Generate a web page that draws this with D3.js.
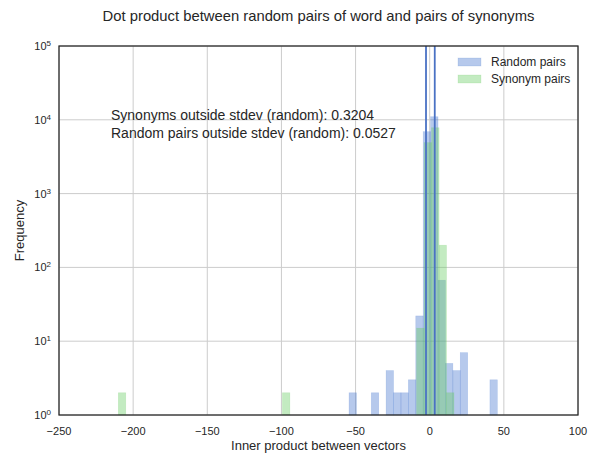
<!DOCTYPE html>
<html>
<head>
<meta charset="utf-8">
<script src="https://cdn.jsdelivr.net/npm/d3@7"></script>
<style>
  html, body { margin: 0; padding: 0; background: #fff; }
  svg { display: block; font-family: "Liberation Sans", Arial, sans-serif; }
</style>
</head>
<body>
<svg id="chart" width="598" height="456"></svg>
<script>
// ---- data ----
const title = "Dot product between random pairs of word and pairs of synonyms";
const xLabel = "Inner product between vectors";
const yLabel = "Frequency";
const xTicks = [-250, -200, -150, -100, -50, 0, 50, 100];
const yTicks = [0, 1, 2, 3, 4, 5]; // exponents of 10

// Random pairs histogram: 20 bins of width 5.0 starting at -54.4
const randomStart = -54.4;
const randomWidth = 5.0;
const randomCounts = [2, 0, 0, 2, 0, 4, 2, 2, 3, 22, 6900, 11000, 67, 5, 4, 7, 0, 0, 0, 3];

// Synonym pairs histogram: 45 bins of width 5.03 starting at -210
const synonymStart = -210.0;
const synonymWidth = 5.03;
const synonymCounts = [
  2, 0, 0, 0, 0, 0, 0, 0, 0, 0,
  0, 0, 0, 0, 0, 0, 0, 0, 0, 0,
  0, 0, 2, 0, 0, 0, 0, 0, 0, 0,
  0, 0, 0, 0, 0, 0, 0, 0, 0, 0,
  15, 4900, 7800, 200, 2
];

// stdev lines of random pairs
const stdevLines = [-2.5, 3.4];

const annotations = [
  "Synonyms outside stdev (random): 0.3204",
  "Random pairs outside stdev (random): 0.0527"
];
const legendItems = ["Random pairs", "Synonym pairs"];

// ---- layout ----
const svg = d3.select("#chart");
const margin = {left: 59, right: 20, top: 46, bottom: 41};
const W = 598, H = 456;
const x0 = margin.left, x1 = W - margin.right;
const y0 = margin.top, y1 = H - margin.bottom;

const x = d3.scaleLinear().domain([-250, 100]).range([x0, x1]);
const y = d3.scaleLog().domain([1, 1e5]).range([y1, y0]);

const blueFill = "#4878cf", greenFill = "#6acc65";
const textColor = "#262626";

// grid
const g = svg.append("g");
g.selectAll(".vgrid").data(xTicks).join("line")
  .attr("x1", d => x(d)).attr("x2", d => x(d))
  .attr("y1", y0).attr("y2", y1)
  .attr("stroke", "#cccccc").attr("stroke-width", 1);
g.selectAll(".hgrid").data(yTicks).join("line")
  .attr("x1", x0).attr("x2", x1)
  .attr("y1", d => y(Math.pow(10, d))).attr("y2", d => y(Math.pow(10, d)))
  .attr("stroke", "#cccccc").attr("stroke-width", 1);

function bins(start, width, counts) {
  return counts.map((c, i) => ({x0: start + i * width, x1: start + (i + 1) * width, c}))
               .filter(d => d.c > 0);
}

const plot = svg.append("g");
plot.selectAll(".rb").data(bins(randomStart, randomWidth, randomCounts)).join("rect")
  .attr("x", d => x(d.x0)).attr("width", d => x(d.x1) - x(d.x0))
  .attr("y", d => y(d.c)).attr("height", d => y1 - y(d.c))
  .attr("fill", blueFill).attr("fill-opacity", 0.4)
  .attr("stroke", blueFill).attr("stroke-opacity", 0.25).attr("stroke-width", 0.6);
plot.selectAll(".sb").data(bins(synonymStart, synonymWidth, synonymCounts)).join("rect")
  .attr("x", d => x(d.x0)).attr("width", d => x(d.x1) - x(d.x0))
  .attr("y", d => y(d.c)).attr("height", d => y1 - y(d.c))
  .attr("fill", greenFill).attr("fill-opacity", 0.4)
  .attr("stroke", greenFill).attr("stroke-opacity", 0.25).attr("stroke-width", 0.6);

plot.selectAll(".sd").data(stdevLines).join("line")
  .attr("x1", d => x(d)).attr("x2", d => x(d))
  .attr("y1", y0).attr("y2", y1)
  .attr("stroke", "#4a72c4").attr("stroke-width", 1.8);

// frame
svg.append("rect").attr("x", x0).attr("y", y0).attr("width", x1 - x0).attr("height", y1 - y0)
  .attr("fill", "none").attr("stroke", textColor).attr("stroke-width", 1.25);

// x tick labels
svg.selectAll(".xt").data(xTicks).join("text")
  .attr("x", d => x(d)).attr("y", y1 + 20)
  .attr("text-anchor", "middle").attr("font-size", 11).attr("fill", textColor)
  .text(d => d < 0 ? "\u2212" + Math.abs(d) : d);

// y tick labels with superscript
const yt = svg.selectAll(".yt").data(yTicks).join("text")
  .attr("x", x0 - 8).attr("y", d => y(Math.pow(10, d)) + 4)
  .attr("text-anchor", "end").attr("font-size", 11).attr("fill", textColor);
yt.append("tspan").text("10");
yt.append("tspan").attr("font-size", 8).attr("dy", -4).text(d => d);

// axis labels
svg.append("text").attr("x", (x0 + x1) / 2).attr("y", 450)
  .attr("text-anchor", "middle").attr("font-size", 13).attr("fill", textColor).text(xLabel);
svg.append("text").attr("transform", `translate(24,${(y0 + y1) / 2}) rotate(-90)`)
  .attr("text-anchor", "middle").attr("font-size", 13).attr("fill", textColor).text(yLabel);

// title
svg.append("text").attr("x", (x0 + x1) / 2).attr("y", 21)
  .attr("text-anchor", "middle").attr("font-size", 14.8).attr("fill", textColor).text(title);

// annotations
svg.selectAll(".ann").data(annotations).join("text")
  .attr("x", x0 + 52).attr("y", (d, i) => 120 + i * 18)
  .attr("font-size", 14).attr("fill", textColor).text(d => d);

// legend
const legColors = [blueFill, greenFill];
const leg = svg.append("g");
legendItems.forEach((t, i) => {
  const cy = 62 + i * 17;
  leg.append("rect").attr("x", 458).attr("y", cy - 4).attr("width", 23).attr("height", 8)
    .attr("fill", legColors[i]).attr("fill-opacity", 0.4)
    .attr("stroke", legColors[i]).attr("stroke-opacity", 0.25).attr("stroke-width", 0.6);
  leg.append("text").attr("x", 491).attr("y", cy + 4)
    .attr("font-size", 12).attr("fill", textColor).text(t);
});
</script>
</body>
</html>
